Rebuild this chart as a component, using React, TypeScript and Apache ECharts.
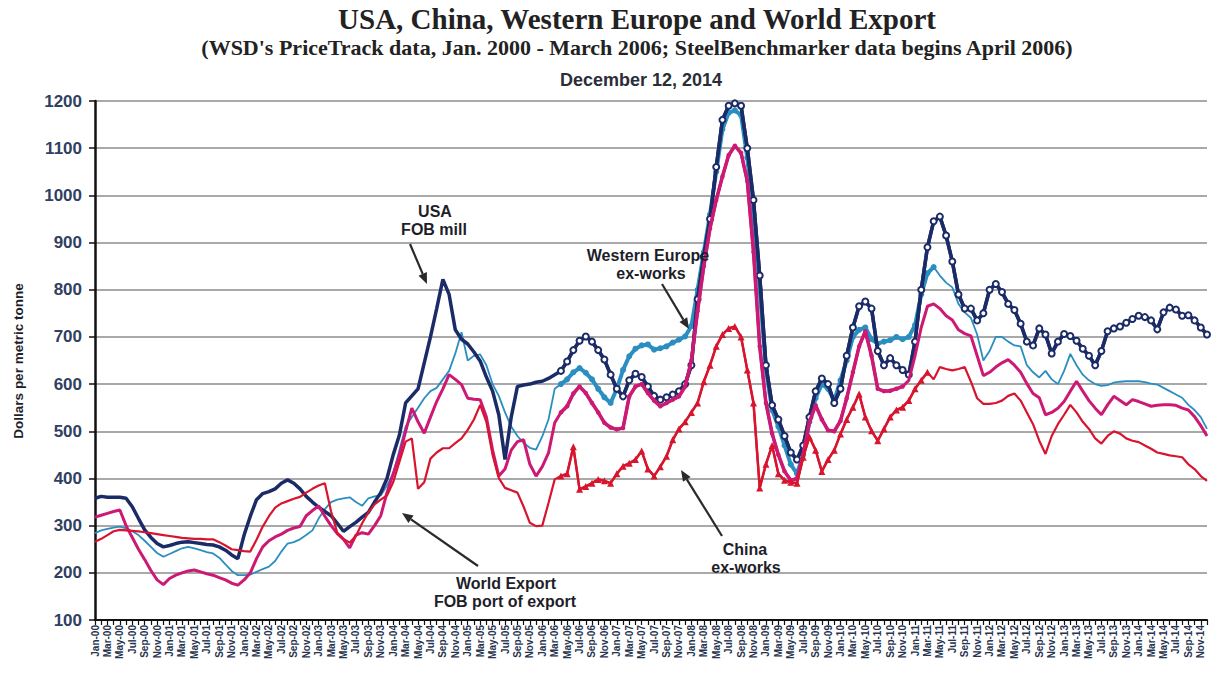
import React, { useEffect, useRef } from "react";
import * as echarts from "echarts";

const monthNames = ["Jan", "Feb", "Mar", "Apr", "May", "Jun", "Jul", "Aug", "Sep", "Oct", "Nov", "Dec"];
const yearLabels = ["00", "01", "02", "03", "04", "05", "06", "07", "08", "09", "10", "11", "12", "13", "14"];

const usaFobMill = [
  358, 362, 360, 360, 360, 358, 340, 315, 291, 275,
  262, 255, 258, 262, 265, 266, 264, 262, 260, 259,
  255, 248, 238, 230, 280, 320, 355, 368, 372, 378,
  390, 397, 390, 378, 362, 350, 339, 330, 321, 305,
  288, 298, 307, 318, 328, 350, 370, 400, 450, 492,
  560, 575, 590, 645, 700, 760, 822, 790, 715, 695,
  685, 668, 649, 615, 585, 535, 440, 530, 595, 598,
  600, 604, 606, 612, 620, 628, 648, 672, 692, 701,
  690, 672, 652, 620, 590, 574, 608, 622, 615, 595,
  575, 567, 572, 578, 585, 600, 640, 780, 870, 950,
  1060, 1160, 1190, 1195, 1190, 1100, 990, 830, 640, 555,
  525, 490, 455, 440, 470, 530, 585, 612, 600, 560,
  590, 660, 720, 765, 775, 760, 670, 640, 655, 640,
  630, 620, 690, 800, 890, 945, 955, 915, 860, 790,
  760, 760, 735, 750, 800, 812, 795, 770, 757, 728,
  690, 682, 718, 705, 665, 690, 706, 702, 692, 675,
  660, 640, 670, 712, 718, 722, 730, 738, 745, 742,
  735, 716, 752, 762, 758, 745, 746, 735, 720, 705,
];

const westernEuropeExWorks = [
  284, 290, 293, 296, 298, 294, 288, 280, 268, 255,
  242, 234, 240, 246, 252, 255, 252, 248, 244, 241,
  232, 218, 204, 195, 195, 196, 202, 208, 213, 225,
  245, 262, 265, 271, 280, 290, 315, 335, 350, 355,
  358, 360, 350, 342, 358, 362, 364, 385, 410, 460,
  510, 530, 550, 570, 585, 592, 610, 628, 665, 710,
  650, 660, 663, 640, 600, 575, 540, 510, 490, 475,
  465, 461, 489, 525, 590, 600, 610, 625, 634, 624,
  610, 590, 572, 560, 590, 630, 659, 675, 682, 684,
  673, 676, 680, 688, 694, 701, 723, 800, 880, 960,
  1050, 1140, 1175, 1180, 1170, 1080, 960, 800, 630, 545,
  510, 470, 430, 410, 450, 520, 570, 600, 590, 565,
  608, 650, 700, 715, 720, 695, 686, 690, 693, 700,
  695, 700, 725, 790, 835, 848, 830, 815, 805, 770,
  752, 740, 705, 650, 670, 700, 700, 690, 682, 680,
  640, 625, 614, 628, 610, 600, 628, 664, 640, 620,
  608, 600, 596, 598, 603, 605, 606, 606, 606, 604,
  601, 599, 592, 585, 578, 571, 556, 545, 530, 505,
];

const worldExportFob = [
  318, 322, 326, 330, 333, 300, 275, 250, 228, 205,
  185, 175, 188, 195, 200, 204, 206, 202, 198, 195,
  190, 185, 178, 174, 185, 200, 230, 255, 268, 276,
  282, 290, 295, 298, 321, 332, 342, 320, 300, 283,
  271, 253, 280, 285, 282, 300, 321, 370, 410, 449,
  500, 549, 520, 496, 530, 563, 590, 620, 610, 599,
  570, 568, 567, 530, 460, 405, 420, 460, 478, 482,
  430, 405, 425, 454, 518, 540, 553, 580, 595, 581,
  560, 540, 518, 508, 504, 507, 574, 595, 600, 581,
  565, 553, 560, 567, 574, 595, 650, 755, 850, 930,
  990, 1040, 1085, 1105, 1090, 1030, 880, 680, 560, 495,
  450, 415, 396, 400, 450, 520, 555, 525, 502, 500,
  522, 570, 625, 680, 712, 660, 590, 585, 586, 590,
  595, 608, 660, 720, 765, 770, 760, 745, 736, 715,
  707, 702, 660, 618, 625, 636, 645, 652, 640, 625,
  601, 580, 571, 535, 540, 549, 563, 585, 606, 585,
  565, 549, 535, 556, 574, 565, 556, 567, 563, 558,
  553, 555, 556, 556, 555, 549, 545, 531, 512, 490,
];

const chinaExWorks = [
  266, 272, 280, 288, 291, 290, 289, 288, 286, 284,
  282, 280, 278, 276, 274, 273, 272, 272, 271, 271,
  265, 258, 250, 248, 246, 245, 270, 298, 320, 338,
  347, 352, 357, 361, 370, 378, 385, 390, 330, 285,
  272, 264, 278, 305, 328, 345, 355, 364, 392, 435,
  478, 485, 378, 392, 442, 455, 464, 464, 475, 485,
  503, 525, 556, 520, 450, 401, 380, 375, 370, 340,
  306, 299, 300, 348, 398, 405, 410, 467, 377, 383,
  390, 398, 395, 390, 410, 426, 432, 440, 458, 420,
  405, 425, 447, 482, 505, 520, 540, 560, 605, 640,
  680, 705, 718, 722, 700, 630, 560, 380, 430, 470,
  410, 396, 392, 390, 445, 488, 460, 415, 440, 460,
  494, 525, 551, 579, 530, 501, 480, 505, 530, 545,
  551, 565, 590, 608, 625, 610, 636, 632, 629, 632,
  636, 605, 570, 558, 558, 560, 565, 575, 580, 565,
  540, 515, 480, 452, 490, 515, 535, 556, 540, 520,
  505, 485, 474, 490, 500, 495, 485, 480, 477, 470,
  463, 455, 452, 449, 447, 445, 430, 420, 405, 395,
];

// Month-index ranges where the SteelBenchmarker-style heavy marked lines are drawn
const usaMarkerRange = [75, 179];
const weMarkerRange = [75, 135];
const worldMarkerRange = [75, 130];
const chinaMarkerRange = [75, 134];

const categories: string[] = [];
yearLabels.forEach((y) => monthNames.forEach((m) => categories.push(m + "-" + y)));

function segment(values: number[], range: number[]) {
  return values.map((v, i) => (i >= range[0] && i <= range[1] ? v : null));
}

function arrow(x1: number, y1: number, x2: number, y2: number) {
  const ang = Math.atan2(y2 - y1, x2 - x1);
  const len = 11;
  const hw = 4.5;
  const bx = x2 - len * Math.cos(ang);
  const by = y2 - len * Math.sin(ang);
  const px = -Math.sin(ang) * hw;
  const py = Math.cos(ang) * hw;
  return [
    { type: "line", shape: { x1, y1, x2: bx, y2: by }, style: { stroke: "#2a2a2a", lineWidth: 2.2 }, z: 100 },
    {
      type: "polygon",
      shape: { points: [[x2, y2], [bx + px, by + py], [bx - px, by - py]] },
      style: { fill: "#2a2a2a" },
      z: 100,
    },
  ];
}

const NAVY = "#1b2b68";
const TEAL = "#2a8fc0";
const MAGENTA = "#cc1a74";
const RED = "#d8152e";

export default function App() {
  const ref = useRef<HTMLDivElement>(null);
  useEffect(() => {
    if (!ref.current) return;
    const chart = echarts.init(ref.current, undefined, { renderer: "svg" });
    const annFont = { fontFamily: "Liberation Sans", fontWeight: "bold", fontSize: 16, fill: "#1e1e2a" };
    const base = (name: string, data: number[], color: string, width: number, z: number) => ({
      name,
      type: "line",
      data,
      showSymbol: false,
      symbol: "none",
      lineStyle: { color, width },
      z,
    });
    const marked = (
      name: string,
      data: (number | null)[],
      color: string,
      width: number,
      symbol: string,
      size: number,
      itemStyle: any,
      z: number
    ) => ({
      name,
      type: "line",
      data,
      symbol,
      symbolSize: size,
      showSymbol: true,
      showAllSymbol: true,
      connectNulls: false,
      lineStyle: { color, width },
      itemStyle,
      z,
    });
    const option: any = {
      animation: false,
      backgroundColor: "#ffffff",
      grid: { left: 95, right: 12, top: 101, bottom: 66 },
      xAxis: {
        type: "category",
        data: categories,
        boundaryGap: false,
        axisLine: { lineStyle: { color: "#111", width: 2 } },
        axisTick: { show: true, interval: 0, length: 5, lineStyle: { color: "#111", width: 1.2 } },
        axisLabel: {
          interval: 1,
          rotate: 90,
          fontSize: 10,
          fontWeight: "bold",
          color: "#28344f",
          fontFamily: "Liberation Sans",
          margin: 5,
        },
        splitLine: { show: false },
      },
      yAxis: {
        type: "value",
        min: 100,
        max: 1200,
        interval: 100,
        axisLine: { show: true, lineStyle: { color: "#111", width: 2.5 } },
        axisTick: { show: true, length: 6, lineStyle: { color: "#111", width: 1.5 } },
        axisLabel: {
          fontSize: 17,
          fontWeight: "bold",
          color: "#2f4062",
          fontFamily: "Liberation Sans",
          margin: 13,
          formatter: (v: number) => String(v),
        },
        splitLine: { show: true, lineStyle: { color: "#8c8c8c", width: 1.6 } },
      },
      series: [
        base("Western Europe ex-works", westernEuropeExWorks, TEAL, 1.8, 2),
        marked("Western Europe ex-works (SteelBenchmarker)", segment(westernEuropeExWorks, weMarkerRange), TEAL, 4, "circle", 6, { color: TEAL }, 2),
        base("USA FOB mill", usaFobMill, NAVY, 3.5, 3),
        marked(
          "USA FOB mill (SteelBenchmarker)",
          segment(usaFobMill, usaMarkerRange),
          NAVY,
          3.5,
          "circle",
          6,
          { color: "#ffffff", borderColor: NAVY, borderWidth: 2 },
          3
        ),
        base("World Export FOB port of export", worldExportFob, MAGENTA, 3, 4),
        marked("World Export (SteelBenchmarker)", segment(worldExportFob, worldMarkerRange), MAGENTA, 3.5, "circle", 4.5, { color: MAGENTA }, 4),
        base("China ex-works", chinaExWorks, RED, 2.2, 5),
        marked("China ex-works (SteelBenchmarker)", segment(chinaExWorks, chinaMarkerRange), RED, 2.5, "triangle", 7, { color: RED }, 5),
      ],
      graphic: [
        {
          type: "text",
          x: 637,
          y: 19,
          style: {
            text: "USA, China, Western Europe and World Export",
            fontFamily: "Liberation Serif",
            fontWeight: "bold",
            fontSize: 29,
            fill: "#222",
            textAlign: "center",
            textVerticalAlign: "middle",
          },
        },
        {
          type: "text",
          x: 637,
          y: 47,
          style: {
            text: "(WSD's PriceTrack data, Jan. 2000 - March 2006; SteelBenchmarker data begins April 2006)",
            fontFamily: "Liberation Serif",
            fontWeight: "bold",
            fontSize: 22,
            fill: "#222",
            textAlign: "center",
            textVerticalAlign: "middle",
          },
        },
        {
          type: "text",
          x: 641,
          y: 80,
          style: {
            text: "December 12, 2014",
            fontFamily: "Liberation Sans",
            fontWeight: "bold",
            fontSize: 18,
            fill: "#2a2e3a",
            textAlign: "center",
            textVerticalAlign: "middle",
          },
        },
        {
          type: "text",
          x: 18,
          y: 361,
          rotation: Math.PI / 2,
          style: {
            text: "Dollars per metric tonne",
            fontFamily: "Liberation Sans Narrow, Liberation Sans",
            fontWeight: "bold",
            fontSize: 13.5,
            fill: "#1e1e2a",
            textAlign: "center",
            textVerticalAlign: "middle",
          },
        },
        { type: "text", x: 435, y: 211, style: { ...annFont, text: "USA", textAlign: "center", textVerticalAlign: "middle" }, z: 100 },
        { type: "text", x: 434, y: 229, style: { ...annFont, text: "FOB mill", textAlign: "center", textVerticalAlign: "middle" }, z: 100 },
        { type: "text", x: 648, y: 255, style: { ...annFont, text: "Western Europe", textAlign: "center", textVerticalAlign: "middle" }, z: 100 },
        { type: "text", x: 651, y: 273, style: { ...annFont, text: "ex-works", textAlign: "center", textVerticalAlign: "middle" }, z: 100 },
        { type: "text", x: 745, y: 549, style: { ...annFont, text: "China", textAlign: "center", textVerticalAlign: "middle" }, z: 100 },
        { type: "text", x: 746, y: 567, style: { ...annFont, text: "ex-works", textAlign: "center", textVerticalAlign: "middle" }, z: 100 },
        { type: "text", x: 506, y: 583, style: { ...annFont, text: "World Export", textAlign: "center", textVerticalAlign: "middle" }, z: 100 },
        { type: "text", x: 505, y: 601, style: { ...annFont, text: "FOB port of export", textAlign: "center", textVerticalAlign: "middle" }, z: 100 },
        ...arrow(410, 244, 427, 284),
        ...arrow(662, 284, 689, 329),
        ...arrow(722, 536, 681, 470),
        ...arrow(478, 566, 402, 513),
      ],
    };
    chart.setOption(option);
    return () => chart.dispose();
  }, []);
  return <div ref={ref} style={{ position: "absolute", left: 0, top: 0, width: 1219, height: 686 }} />;
}
